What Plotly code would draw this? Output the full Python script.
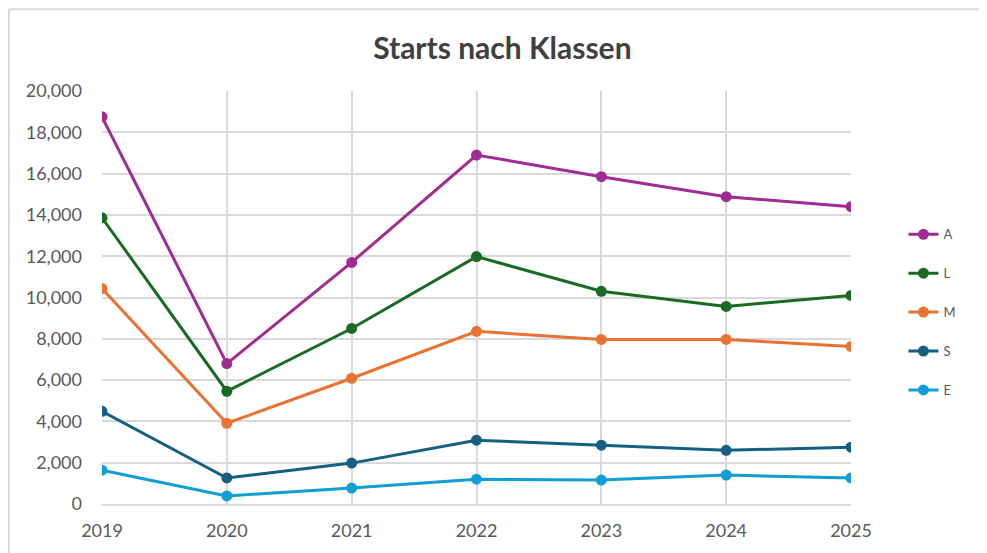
import plotly.graph_objects as go

years = [2019, 2020, 2021, 2022, 2023, 2024, 2025]
series_names = ["A", "L", "M", "S", "E"]
A = [18750, 6800, 11700, 16900, 15850, 14880, 14400]
L = [13860, 5460, 8500, 11980, 10300, 9570, 10100]
M = [10430, 3910, 6090, 8360, 7970, 7970, 7630]
S = [4490, 1260, 1980, 3090, 2850, 2600, 2750]
E = [1640, 390, 770, 1200, 1160, 1400, 1260]
colors = ["#A02B93", "#196B24", "#E97132", "#156082", "#0F9ED5"]
values = [A, L, M, S, E]

fig = go.Figure()
for name, vals, col in zip(series_names, values, colors):
    fig.add_trace(go.Scatter(
        x=years, y=vals, name=name, mode="lines+markers",
        line=dict(color=col, width=3),
        marker=dict(color=col, size=11),
        legendgroup=name,
    ))

font_family = "Lato, Arial, sans-serif"
fig.update_layout(
    width=979, height=545,
    margin=dict(l=94, r=136, t=83, b=40),
    paper_bgcolor="white", plot_bgcolor="white",
    title=dict(text="<b>Starts nach Klassen</b>", x=0.505, xanchor="center",
               y=0.925, yanchor="middle",
               font=dict(family=font_family, size=30, color="#404040")),
    font=dict(family=font_family, size=16, color="#595959"),
    xaxis=dict(range=[2019, 2025], tickmode="array", tickvals=years,
               ticktext=[str(y) for y in years],
               showgrid=True, gridcolor="#D9D9D9", gridwidth=1.5,
               zeroline=False, showline=True, linecolor="#D9D9D9", linewidth=1.5,
               ticks="", tickfont=dict(size=18), ticklabelstandoff=10),
    yaxis=dict(range=[0, 20000], dtick=2000, tickformat=",",
               showgrid=True, gridcolor="#D9D9D9", gridwidth=1.5,
               zeroline=False, showline=False, ticks="",
               tickfont=dict(size=18), ticklabelstandoff=19),
    legend=dict(x=1.07, xanchor="left", y=0.464, yanchor="middle",
                font=dict(size=13, color="#595959"), tracegroupgap=19,
                bgcolor="rgba(0,0,0,0)"),
    showlegend=True,
    shapes=[
        dict(type="line", xref="paper", yref="paper",
             x0=-0.1242, x1=-0.1242, y0=-0.3, y1=1.198,
             line=dict(color="#D9D9D9", width=2), layer="below"),
        dict(type="line", xref="paper", yref="paper",
             x0=-0.1242, x1=1.2, y0=1.198, y1=1.198,
             line=dict(color="#D9D9D9", width=2), layer="below"),
    ],
)

fig.write_html("out.html")
